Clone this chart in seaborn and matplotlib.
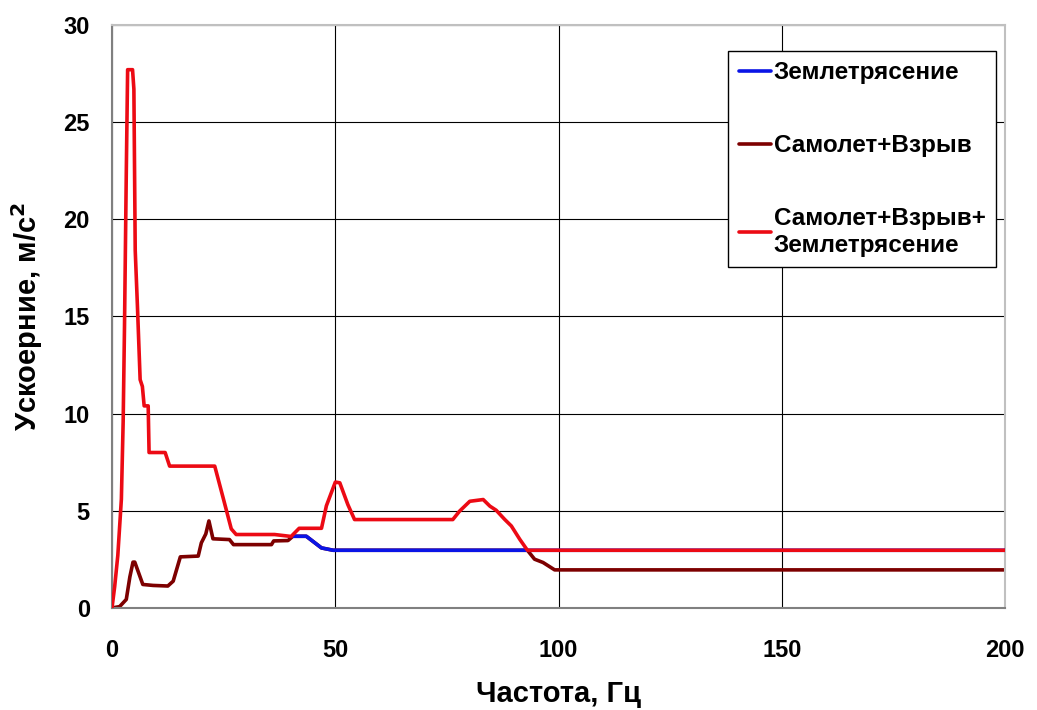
import numpy as np
import pandas as pd
import matplotlib
matplotlib.use("Agg")
import matplotlib.pyplot as plt
import seaborn as sns

# Самолет+Взрыв
f_plane = [0, 1.7, 3.2, 4.0, 4.7, 5.1, 6.9, 9.2, 12.5, 13.7, 15.3, 19.3, 20.0, 21.0, 21.7,
           22.6, 26.3, 27.2, 35.7, 36.2, 39.4, 40.5, 43.5, 46.9, 49.5, 93.0, 94.6, 96.5,
           99.1, 200]
a_plane = [0, 0.07, 0.44, 1.6, 2.36, 2.36, 1.21, 1.16, 1.13, 1.38, 2.63, 2.67, 3.35, 3.81,
           4.48, 3.56, 3.52, 3.26, 3.26, 3.45, 3.47, 3.69, 3.69, 3.09, 2.97, 2.97, 2.51,
           2.34, 1.96, 1.96]

# Землетрясение (visible part)
f_quake = [40.5, 43.5, 46.9, 49.5, 200]
a_quake = [3.69, 3.69, 3.09, 2.97, 2.97]

# Самолет+Взрыв+Землетрясение
f_total = [0, 0.6, 1.3, 2.1, 2.5, 2.8, 3.2, 3.5, 4.6, 4.9, 5.2, 5.7, 6.3, 6.8, 7.2, 8.1,
           8.3, 11.9, 12.9, 23.0, 24.9, 26.7, 27.8, 36.4, 40.1, 41.9, 46.9, 48.0, 50.0,
           51.0, 52.8, 54.3, 76.3, 77.8, 80.1, 83.1, 84.6, 86.0, 87.9, 89.4, 91.3, 93.0,
           200]
a_total = [0, 1.1, 2.7, 5.6, 9.6, 14.5, 22.4, 27.7, 27.7, 26.7, 18.4, 15.5, 11.75, 11.4,
           10.4, 10.4, 8.0, 8.0, 7.3, 7.3, 5.65, 4.07, 3.78, 3.78, 3.68, 4.1, 4.1, 5.26,
           6.48, 6.44, 5.32, 4.55, 4.55, 4.98, 5.49, 5.58, 5.24, 5.03, 4.56, 4.22, 3.53,
           2.97, 2.97]

labels = ["Землетрясение", "Самолет+Взрыв", "Самолет+Взрыв+\nЗемлетрясение"]
colors = ["#0a14e6", "#7d0000", "#ec0a14"]

sns.set_style("white")
plt.rcParams["font.family"] = ["Liberation Sans", "DejaVu Sans"]
plt.rcParams["font.weight"] = "bold"
plt.rcParams["text.color"] = "black"
plt.rcParams["axes.labelcolor"] = "black"
plt.rcParams["xtick.labelcolor"] = "black"
plt.rcParams["ytick.labelcolor"] = "black"

fig = plt.figure(figsize=(10.37, 7.10), dpi=100)
ax = fig.add_axes([0.108, 0.1437, 0.8615, 0.8211])

lw = 2.6
sns.lineplot(x=f_plane, y=a_plane, ax=ax, color=colors[1], lw=lw, zorder=2, sort=False)
sns.lineplot(x=f_quake, y=a_quake, ax=ax, color=colors[0], lw=lw, zorder=3, sort=False)
sns.lineplot(x=f_total, y=a_total, ax=ax, color=colors[2], lw=lw, zorder=4, sort=False)

ax.set_xlim(0, 200)
ax.set_ylim(0, 30)
ax.set_xticks(np.arange(0, 201, 50))
ax.set_yticks(np.arange(0, 31, 5))
ax.grid(True, color="black", lw=0.8)
ax.set_axisbelow(True)

for side in ["left", "bottom"]:
    ax.spines[side].set_color("#808080")
    ax.spines[side].set_linewidth(1.5)
for side in ["top", "right"]:
    ax.spines[side].set_color("#c0c0c0")
    ax.spines[side].set_linewidth(1.5)

ax.tick_params(axis="both", direction="out", length=6, width=1.2, color="#808080",
               labelsize=17, labelcolor="black")
ax.tick_params(axis="x", pad=16)
ax.tick_params(axis="y", pad=10)
for t in ax.get_xticklabels() + ax.get_yticklabels():
    t.set_fontweight("bold")

ax.set_xlabel("Частота, Гц", fontsize=21, fontweight="bold", labelpad=13)
ax.set_ylabel("Ускоерние, м/с$^{2}$", fontsize=21, fontweight="bold", labelpad=13)

handles = [plt.Line2D([], [], color=c, lw=lw) for c in colors]
leg = ax.legend(handles, labels, loc="upper left", bbox_to_anchor=(0.69, 0.955),
                borderaxespad=0, fancybox=False, frameon=True, handlelength=1.35,
                handletextpad=0.1, labelspacing=2.05, borderpad=0.42,
                prop={"weight": "bold", "size": 17.5})
leg.get_frame().set_edgecolor("black")
leg.get_frame().set_linewidth(1.0)
leg.get_frame().set_alpha(1)

fig.savefig("out.png", dpi=100)
